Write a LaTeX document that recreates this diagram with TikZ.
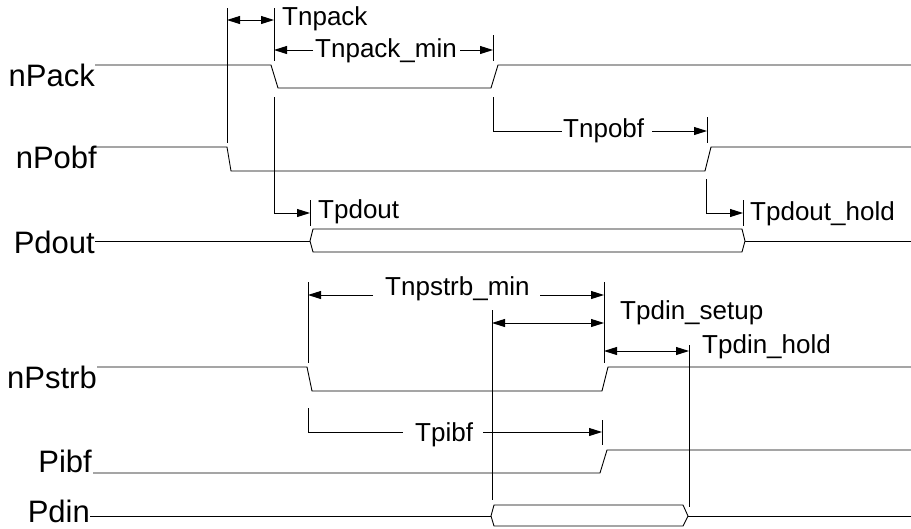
\documentclass[tikz,border=0pt]{standalone}
\usepackage{fontspec}
\setmainfont{Liberation Sans}
\usetikzlibrary{arrows.meta}
\tikzset{
  sig/.style={line width=0.9pt, line join=miter},
  dim/.style={line width=0.9pt},
  arr/.style={dim, -{Triangle[length=13pt,width=8pt]}},
  darr/.style={dim, {Triangle[length=13pt,width=8pt]}-{Triangle[length=13pt,width=8pt]}},
  lbl/.style={inner sep=0pt, anchor=base east, font=\fontsize{31}{31}\selectfont},
  tlbl/.style={inner sep=0pt, anchor=base west, font=\fontsize{26}{26}\selectfont},
}
\begin{document}
\begin{tikzpicture}[x=1pt,y=-1pt]
\useasboundingbox (0,0) rectangle (911,528);
% signal labels
\node[lbl] (lnpack) at (95,86) {nPack};
\node[lbl] (lnpobf) at (97,168) {nPobf};
\node[lbl] (lpdout) at (95,253) {Pdout};
\node[lbl] (lnpstrb) at (97,388) {nPstrb};
\node[lbl] (lpibf) at (92,472) {Pibf};
\node[lbl] (lpdin) at (90,522) {Pdin};
% signals
\draw[sig] (95,65) -- (271,65) -- (278,88) -- (491,88) -- (498,65) -- (911,65);
\draw[sig] (97,147) -- (227,147) -- (231,171) -- (705,171) -- (711,147) -- (911,147);
\draw[sig] (95,241) -- (310,241);
\draw[sig] (310,241) -- (313,229) -- (742,229) -- (745,241) -- (742,252) -- (313,252) -- cycle;
\draw[sig] (745,241) -- (911,241);
\draw[sig] (97,367) -- (307,367) -- (312,391) -- (602,391) -- (608,367) -- (911,367);
\draw[sig] (93,473) -- (600,473) -- (607,450) -- (911,450);
\draw[sig] (90,516) -- (491,516);
\draw[sig] (491,516) -- (494,505) -- (683,505) -- (688,516) -- (683,526) -- (494,526) -- cycle;
\draw[sig] (688,516) -- (911,516);
% Tnpack
\coordinate (a1) at (227,8); \coordinate (a2) at (227,143);
\coordinate (b1) at (274,8); \coordinate (b2) at (274,61);
\draw[dim] (a1) -- (a2);
\draw[dim] (b1) -- (b2);
\draw[darr] (227,20) -- (274,20);
\node[tlbl] (tnpack) at (282,25) {Tnpack};
% Tnpack_min
\node[tlbl] (tnpackmin) at (315,57) {Tnpack\_min};
\draw[arr] (313,50) -- (274,50);
\draw[arr] (460,50) -- (493,50);
\draw[dim] (493,35) -- (493,61);
% Tpdout
\draw[arr] (274,97) -- (274,213) -- (310,213);
\draw[dim] (310,200) -- (310,226);
\node[tlbl] (tpdout) at (318,218) {Tpdout};
% Tnpobf
\node[tlbl] (tnpobf) at (563,137) {Tnpobf};
\draw[dim] (493,97) -- (493,131) -- (562,131);
\draw[arr] (652,131) -- (707,131);
\draw[dim] (707,117) -- (707,143);
% Tpdout_hold
\draw[arr] (706,179) -- (706,213) -- (743,213);
\draw[dim] (743,200) -- (743,226);
\node[tlbl] (tpdouthold) at (750,220) {Tpdout\_hold};
% Tnpstrb_min
\draw[dim] (308,282) -- (308,363);
\draw[dim] (604,282) -- (604,363);
\node[tlbl] (tnpstrbmin) at (385,295) {Tnpstrb\_min};
\draw[arr] (373,295) -- (308,295);
\draw[arr] (540,295) -- (604,295);
% Tpdin_setup
\draw[dim] (492,310) -- (492,500);
\draw[darr] (492,323) -- (604,323);
\node[tlbl] (tpdinsetup) at (620,319) {Tpdin\_setup};
% Tpdin_hold
\draw[dim] (689,345) -- (689,507);
\draw[darr] (604,351) -- (689,351);
\node[tlbl] (tpdinhold) at (702,353) {Tpdin\_hold};
% Tpibf
\node[tlbl] (tpibf) at (415,441) {Tpibf};
\draw[dim] (308,408) -- (308,432) -- (403,432);
\draw[arr] (483,432) -- (602,432);
\draw[dim] (602,420) -- (602,445);
\end{tikzpicture}
\end{document}
